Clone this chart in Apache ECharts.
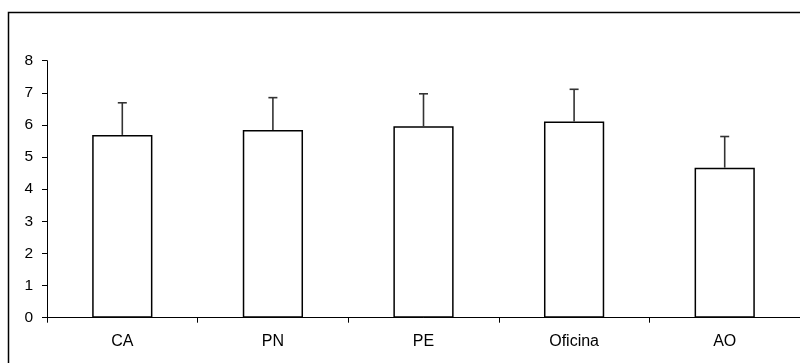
<!DOCTYPE html>
<html>
<head>
<meta charset="utf-8">
<script src="https://cdn.jsdelivr.net/npm/echarts@6/dist/echarts.min.js"></script>
<style>
html,body{margin:0;padding:0;background:#fff;}
#chart{width:800px;height:363px;}
</style>
</head>
<body>
<div id="chart"></div>
<script>
const categories = ['CA', 'PN', 'PE', 'Oficina', 'AO'];
const means = [5.69, 5.84, 5.96, 6.11, 4.67];
const errors = [1.00, 1.01, 1.01, 1.00, 0.97];
const yTicks = [0, 1, 2, 3, 4, 5, 6, 7, 8];

const chart = echarts.init(document.getElementById('chart'), null, {renderer: 'canvas'});
const font = 'Liberation Sans, Arial, sans-serif';

const errData = categories.map((c, i) => [i, means[i], means[i] + errors[i]]);

chart.setOption({
  animation: false,
  backgroundColor: '#ffffff',
  graphic: [{
    type: 'rect',
    shape: {x: 8.5, y: 12.5, width: 820, height: 400},
    style: {fill: 'none', stroke: '#000', lineWidth: 1.5},
    z: 100
  }],
  grid: {left: 47, top: 60.7, bottom: 45.3, width: 755, containLabel: false},
  xAxis: {
    type: 'category',
    data: categories,
    boundaryGap: true,
    axisLine: {lineStyle: {color: '#000', width: 1}},
    axisTick: {show: true, length: 5, lineStyle: {color: '#000'}},
    axisLabel: {color: '#000', fontFamily: font, fontSize: 16, margin: 16},
    splitLine: {show: false}
  },
  yAxis: {
    type: 'value',
    min: yTicks[0],
    max: yTicks[yTicks.length - 1],
    interval: 1,
    axisLine: {show: true, lineStyle: {color: '#000', width: 1}},
    axisTick: {show: true, length: 5, lineStyle: {color: '#000'}},
    axisLabel: {color: '#000', fontFamily: font, fontSize: 15.5, margin: 14},
    splitLine: {show: false}
  },
  series: [{
    type: 'bar',
    data: means,
    barWidth: '40%',
    itemStyle: {color: '#fff', borderColor: '#000', borderWidth: 1.5},
    z: 2
  }, {
    type: 'custom',
    data: errData,
    z: 3,
    renderItem: function (params, api) {
      const base = api.coord([api.value(0), api.value(1)]);
      const top = api.coord([api.value(0), api.value(2)]);
      const capHalf = 4.5;
      return {
        type: 'group',
        children: [{
          type: 'line',
          shape: {x1: base[0], y1: base[1], x2: top[0], y2: top[1]},
          style: {stroke: '#333', lineWidth: 1.6}
        }, {
          type: 'line',
          shape: {x1: top[0] - capHalf, y1: top[1], x2: top[0] + capHalf, y2: top[1]},
          style: {stroke: '#333', lineWidth: 1.6}
        }]
      };
    }
  }]
});
</script>
</body>
</html>
